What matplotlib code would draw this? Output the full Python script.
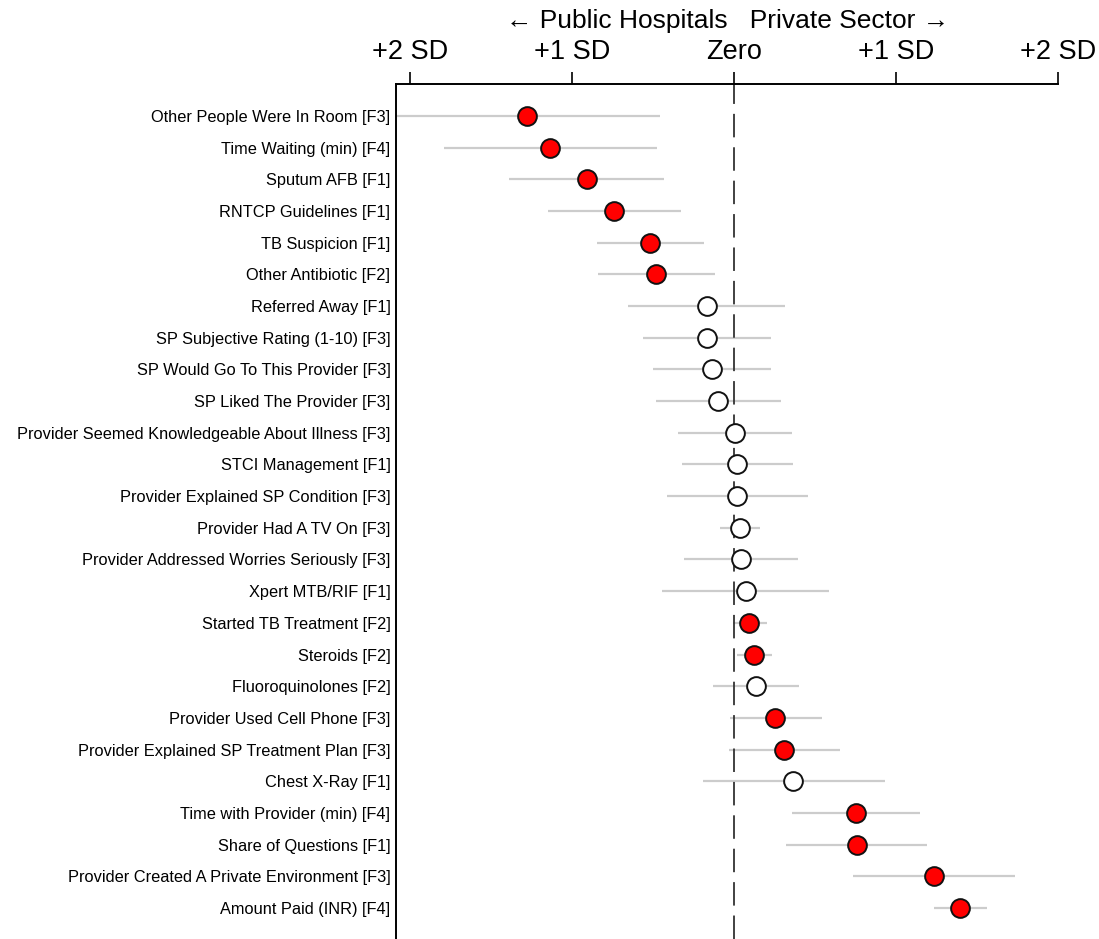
import matplotlib
matplotlib.use("Agg")
import matplotlib.pyplot as plt
import numpy as np

plt.rcParams['font.family'] = ['Liberation Sans', 'DejaVu Sans']

labels = [
    "Other People Were In Room [F3]",
    "Time Waiting (min) [F4]",
    "Sputum AFB [F1]",
    "RNTCP Guidelines [F1]",
    "TB Suspicion [F1]",
    "Other Antibiotic [F2]",
    "Referred Away [F1]",
    "SP Subjective Rating (1-10) [F3]",
    "SP Would Go To This Provider [F3]",
    "SP Liked The Provider [F3]",
    "Provider Seemed Knowledgeable About Illness [F3]",
    "STCI Management [F1]",
    "Provider Explained SP Condition [F3]",
    "Provider Had A TV On [F3]",
    "Provider Addressed Worries Seriously [F3]",
    "Xpert MTB/RIF [F1]",
    "Started TB Treatment [F2]",
    "Steroids [F2]",
    "Fluoroquinolones [F2]",
    "Provider Used Cell Phone [F3]",
    "Provider Explained SP Treatment Plan [F3]",
    "Chest X-Ray [F1]",
    "Time with Provider (min) [F4]",
    "Share of Questions [F1]",
    "Provider Created A Private Environment [F3]",
    "Amount Paid (INR) [F4]",
]
estimate = [-1.278, -1.136, -0.907, -0.741, -0.519, -0.481, -0.167, -0.167, -0.136, -0.099,
            0.006, 0.019, 0.019, 0.037, 0.043, 0.074, 0.093, 0.123, 0.136, 0.253,
            0.309, 0.364, 0.753, 0.759, 1.235, 1.395]
ci_low = [-2.15, -1.790, -1.389, -1.148, -0.846, -0.840, -0.654, -0.562, -0.500, -0.480,
          -0.346, -0.321, -0.414, -0.086, -0.309, -0.444, -0.006, 0.019, -0.130, -0.025,
          -0.031, -0.191, 0.358, 0.321, 0.735, 1.235]
ci_high = [-0.457, -0.475, -0.432, -0.327, -0.185, -0.117, 0.315, 0.228, 0.228, 0.290,
           0.358, 0.364, 0.457, 0.160, 0.395, 0.586, 0.204, 0.235, 0.401, 0.543,
           0.654, 0.932, 1.148, 1.191, 1.735, 1.562]
significant = [True, True, True, True, True, True, False, False, False, False,
               False, False, False, False, False, False, True, True, False, True,
               True, False, True, True, True, True]

tick_pos = [-2, -1, 0, 1, 2]
tick_labels = ["+2 SD", "+1 SD", "Zero", "+1 SD", "+2 SD"]
title = "\u2190 Public Hospitals   Private Sector \u2192"

W, H = 1099, 939
fig = plt.figure(figsize=(W / 100, H / 100), dpi=100)
ax = fig.add_axes([396 / W, 0, (1058 - 396) / W, (939 - 84) / H])

y = np.arange(len(labels))
ax.hlines(y, ci_low, ci_high, color='#cccccc', lw=1.6, zorder=1)
ax.axvline(0, color='#333333', lw=1.3, dashes=(13, 5.5), zorder=2)
for yi, e, s in zip(y, estimate, significant):
    ax.plot(e, yi, 'o', ms=13.5, mfc='#ff0000' if s else 'white', mec='#111111',
            mew=1.4, zorder=3)

ax.set_xlim(-2.086, 2.0)
ax.set_ylim(25.98, -1.01)
ax.set_yticks(y)
ax.set_yticklabels(labels, fontsize=11.8)
ax.tick_params(axis='y', length=0, pad=4)
ax.xaxis.tick_top()
ax.set_xticks(tick_pos)
ax.set_xticklabels(tick_labels, fontsize=19.5)
ax.tick_params(axis='x', length=8.6, width=1.2, pad=5, direction='out')
for side in ['right', 'bottom']:
    ax.spines[side].set_visible(False)
for side in ['left', 'top']:
    ax.spines[side].set_linewidth(1.4)
fig.text(728 / W, 1 - 21 / H, title, fontsize=19, ha='center', va='center')

fig.savefig("out.png", dpi=100)
